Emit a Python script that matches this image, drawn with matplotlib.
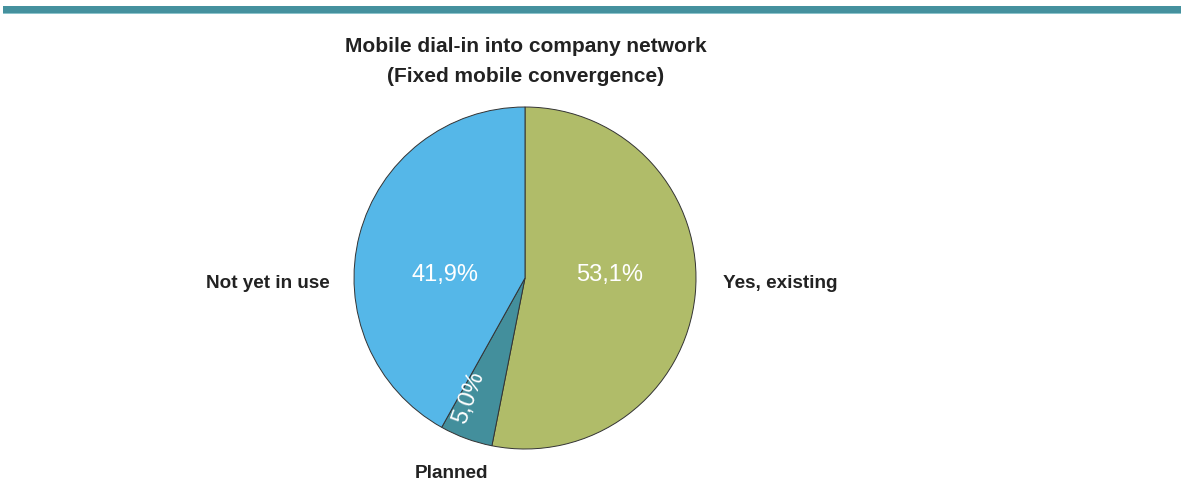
import matplotlib.pyplot as plt
from matplotlib.patches import Rectangle

labels = ["Yes, existing", "Planned", "Not yet in use"]
shares = [53.1, 5.0, 41.9]
pct_text = ["53,1%", "5,0%", "41,9%"]
colors = ["#B0BC69", "#438F9C", "#55B7E8"]

plt.rcParams['font.family'] = ['Liberation Sans', 'DejaVu Sans']

fig = plt.figure(figsize=(11.81, 4.93), dpi=100)
ax = fig.add_axes([0, 0, 1, 1])

# top banner line
ax.add_patch(Rectangle((3, 480), 1178, 7, color="#45919E", lw=0))
ax.add_patch(Rectangle((3, 479), 1178, 1.2, color="#8CC3CB", lw=0))

ax.text(526, 447, "Mobile dial-in into company network", ha='center', va='center',
        fontsize=15, fontweight='bold', color="#222222")
ax.text(526, 417, "(Fixed mobile convergence)", ha='center', va='center',
        fontsize=15, fontweight='bold', color="#222222")

cx, cy, r = 525, 215, 171
wedges, _ = ax.pie(shares, colors=colors, startangle=90, counterclock=False,
                   center=(cx, cy), radius=r, frame=True,
                   wedgeprops=dict(edgecolor="#333333", linewidth=0.7))
ax.set_xlim(0, 1181)
ax.set_ylim(0, 493)
ax.axis('off')

# percentages inside
ax.text(610, 218, pct_text[0], ha='center', va='center', fontsize=17,
        color='white')
ax.text(445, 218, pct_text[2], ha='center', va='center', fontsize=17,
        color='white')
ax.text(469, 95, pct_text[1], ha='center', va='center', fontsize=17,
        color='white', rotation=70)

# category labels outside
ax.text(723, 210, labels[0], ha='left', va='center', fontsize=13.6,
        fontweight='bold', color="#222222")
ax.text(330, 210, labels[2], ha='right', va='center', fontsize=13.6,
        fontweight='bold', color="#222222")
ax.text(452, 20, labels[1], ha='center', va='center', fontsize=13.6,
        fontweight='bold', color="#222222")

plt.savefig("out.png", dpi=100)
